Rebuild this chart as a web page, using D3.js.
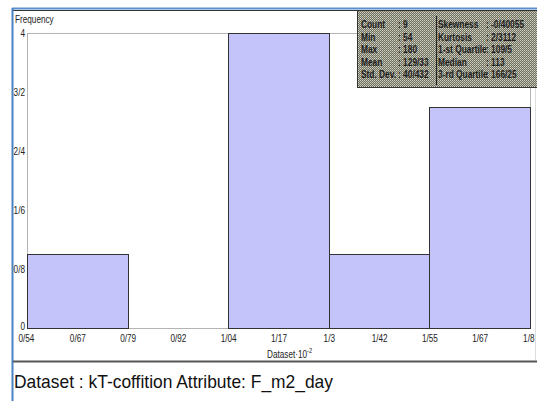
<!DOCTYPE html>
<html>
<head>
<meta charset="utf-8">
<title>Histogram F_m2_day</title>
<script src="https://d3js.org/d3.v7.min.js"></script>
<style>
  body { margin: 0; background: #fff; }
  svg { display: block; }
</style>
</head>
<body>
<div id="chart"></div>
<script>
// histogram bins (values in units of 10^2)
var binEdges = [0.54, 0.792, 1.044, 1.296, 1.548, 1.80];
var binCounts = [1, 0, 4, 1, 3];

// axis ticks
var xTicks = [0.54, 0.666, 0.792, 0.918, 1.044, 1.17, 1.296, 1.422, 1.548, 1.674, 1.80];
var yTicks = [0, 0.8, 1.6, 2.4, 3.2, 4];

// statistics box
var statNamesL = ["Count", "Min", "Max", "Mean", "Std. Dev."];
var statValuesL = ["9", "54", "180", "129/33", "40/432"];
var statNamesR = ["Skewness", "Kurtosis", "1-st Quartile", "Median", "3-rd Quartile"];
var statValuesR = ["-0/40055", "2/3112", "109/5", "113", "166/25"];

var caption = "Dataset : kT-coffition Attribute: F_m2_day";

var W = 537, H = 401;
var font = "'Liberation Sans', Arial, sans-serif";

// decimal separator is shown as "/"
function fmt(v) {
  var s = (+v.toFixed(2)).toString();
  return s.replace(".", "/");
}

// narrow text: squeeze horizontally like Arial Narrow
function narrowText(g, px, py, str, sx) {
  return g.append("text")
    .attr("transform", "translate(" + px + "," + py + ") scale(" + sx + ",1)")
    .text(str);
}

var svg = d3.select("#chart").append("svg")
  .attr("width", W).attr("height", H)
  .style("font-family", font);

// window frame
svg.append("line").attr("x1", 12).attr("x2", W).attr("y1", 8.5).attr("y2", 8.5)
  .attr("stroke", "#5b8fcf").attr("stroke-width", 2);
svg.append("line").attr("x1", 13).attr("x2", W).attr("y1", 10.5).attr("y2", 10.5)
  .attr("stroke", "#333").attr("stroke-width", 1);
svg.append("line").attr("x1", 12.5).attr("x2", 12.5).attr("y1", 8).attr("y2", H)
  .attr("stroke", "#4a82c4").attr("stroke-width", 2);
svg.append("line").attr("x1", 13).attr("x2", W).attr("y1", 361.5).attr("y2", 361.5)
  .attr("stroke", "#555").attr("stroke-width", 2);
svg.append("line").attr("x1", 535.5).attr("x2", 535.5).attr("y1", 11).attr("y2", 360)
  .attr("stroke", "#ddd");

// plot area
var pLeft = 27, pRight = 530, pTop = 33, pBottom = 328;
var x = d3.scaleLinear().domain([binEdges[0], binEdges[binEdges.length - 1]]).range([pLeft, pRight]);
var y = d3.scaleLinear().domain([0, 4]).range([pBottom, pTop]);

svg.append("rect")
  .attr("x", pLeft + 0.5).attr("y", pTop + 0.5)
  .attr("width", pRight - pLeft).attr("height", pBottom - pTop)
  .attr("fill", "none").attr("stroke", "#b4b4b4");

// bars
var bins = binCounts.map(function(c, i) { return { x0: binEdges[i], x1: binEdges[i + 1], n: c }; });
svg.selectAll("rect.bar")
  .data(bins.filter(function(d) { return d.n > 0; }))
  .enter().append("rect")
  .attr("class", "bar")
  .attr("x", function(d) { return Math.round(x(d.x0)) + 0.5; })
  .attr("y", function(d) { return Math.round(y(d.n)) + 0.5; })
  .attr("width", function(d) { return Math.round(x(d.x1)) - Math.round(x(d.x0)); })
  .attr("height", function(d) { return Math.round(y(0)) - Math.round(y(d.n)); })
  .attr("fill", "#c4c4fa")
  .attr("stroke", "#333")
  .attr("stroke-width", 1);

// x axis labels
var xAxis = d3.axisBottom(x).tickValues(xTicks).tickFormat(fmt).tickSize(0).tickPadding(0);
var gx = svg.append("g").attr("transform", "translate(0," + pBottom + ")").call(xAxis);
gx.select(".domain").remove();
gx.selectAll(".tick text")
  .attr("font-family", font).attr("font-size", 10).attr("fill", "#222")
  .attr("y", 0).attr("dy", 0)
  .attr("transform", "translate(0,14) scale(0.82,1)");
gx.selectAll(".tick text").filter(function(d, i) { return i === 0; }).attr("text-anchor", "start")
  .attr("transform", "translate(-9,14) scale(0.82,1)");
gx.selectAll(".tick text").filter(function(d, i) { return i === xTicks.length - 1; }).attr("text-anchor", "end")
  .attr("transform", "translate(4,14) scale(0.82,1)");

// y axis labels
var yAxis = d3.axisLeft(y).tickValues(yTicks).tickFormat(fmt).tickSize(0).tickPadding(0);
var gy = svg.append("g").attr("transform", "translate(" + pLeft + ",0)").call(yAxis);
gy.select(".domain").remove();
gy.selectAll(".tick text")
  .attr("font-family", font).attr("font-size", 10).attr("fill", "#222")
  .attr("x", 0).attr("dy", "0.32em")
  .attr("transform", "translate(-2,0) scale(0.82,1)");
gy.selectAll(".tick text").filter(function(d) { return d === 0; })
  .attr("dy", "0.1em");

var labels = svg.append("g").attr("font-size", 10).attr("fill", "#222");
narrowText(labels, 15, 23, "Frequency", 0.82);

var xl = narrowText(labels, 267, 358, "", 0.82);
xl.append("tspan").text("Dataset\u00b710");
xl.append("tspan").attr("dy", -5).attr("font-size", 7).text("-2");

// statistics box
var defs = svg.append("defs");
var pat = defs.append("pattern").attr("id", "dots")
  .attr("width", 2).attr("height", 2).attr("patternUnits", "userSpaceOnUse");
pat.append("rect").attr("width", 2).attr("height", 2).attr("fill", "#6f6f60");
pat.append("rect").attr("width", 1).attr("height", 1).attr("fill", "#d4d4c6");
pat.append("rect").attr("x", 1).attr("y", 1).attr("width", 1).attr("height", 1).attr("fill", "#b5b5a6");

var bx = 357, by = 10, bw = W - bx, bh = 77;
svg.append("rect").attr("x", bx + 0.5).attr("y", by + 0.5).attr("width", bw).attr("height", bh)
  .attr("fill", "url(#dots)").attr("stroke", "#333");
svg.append("line").attr("x1", 436.5).attr("x2", 436.5).attr("y1", by + 6).attr("y2", by + bh - 2)
  .attr("stroke", "#222");

var rowY = d3.scaleLinear().domain([0, 4]).range([28, 78]);
var st = svg.append("g").attr("font-size", 11).attr("font-weight", "bold").attr("fill", "#1e1e1e");
statNamesL.forEach(function(n, i) {
  narrowText(st, 361, rowY(i), n, 0.76);
  narrowText(st, 398, rowY(i), ": " + statValuesL[i], 0.76);
});
statNamesR.forEach(function(n, i) {
  narrowText(st, 438, rowY(i), n, 0.76);
  narrowText(st, 486, rowY(i), ": " + statValuesR[i], 0.76);
});

// caption
svg.append("text").attr("x", 14).attr("y", 388)
  .attr("font-size", 19).attr("fill", "#111")
  .attr("textLength", 319).attr("lengthAdjust", "spacingAndGlyphs")
  .text(caption);
</script>
</body>
</html>
